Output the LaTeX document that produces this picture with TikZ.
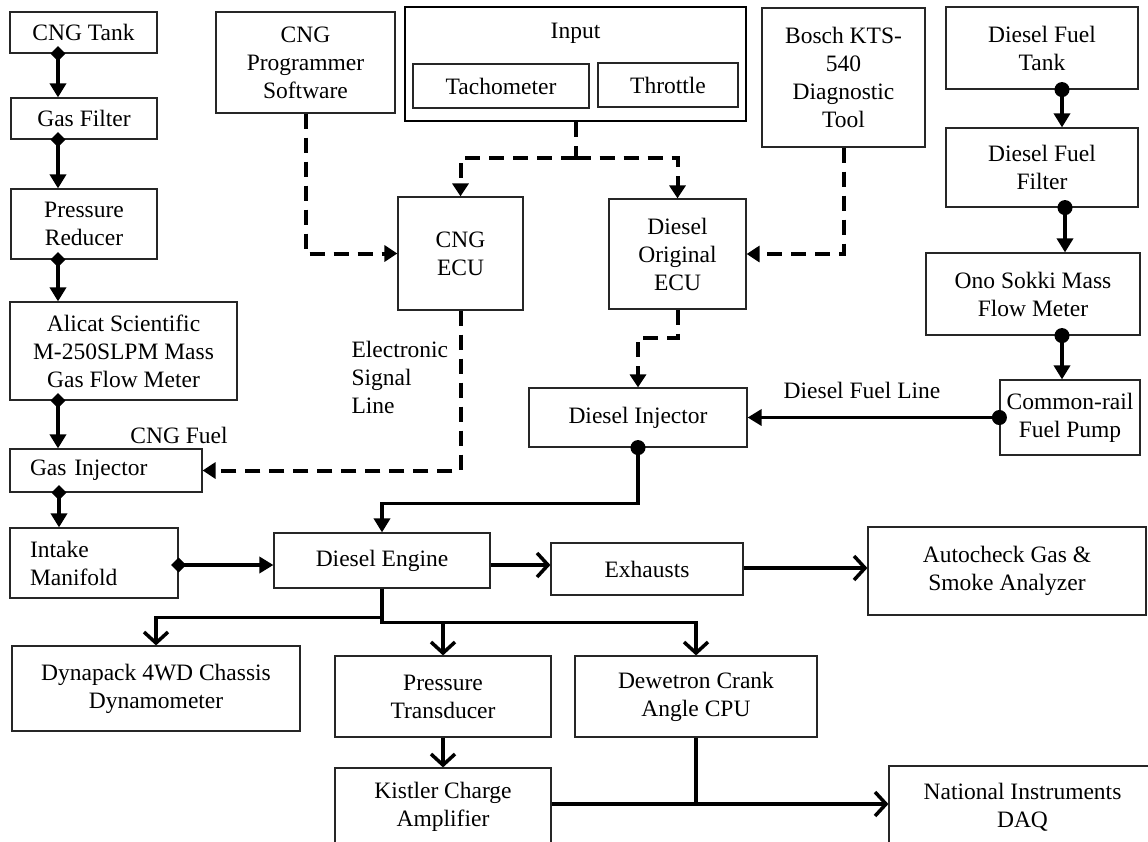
\documentclass[tikz,border=0pt]{standalone}
\usepackage{fontspec}
\setmainfont{Liberation Serif}
\usetikzlibrary{arrows.meta,calc}
\begin{document}
\begin{tikzpicture}[x=1pt,y=-1pt,
  every node/.style={font=\fontsize{23.5}{28}\selectfont},
  box/.style={draw=black!85,line width=1.2pt,inner sep=0pt,align=center},
  gas/.style={line width=3.5pt,{Diamond[length=15pt,width=15pt]}-{Triangle[length=14pt,width=16pt]}},
  dsl/.style={line width=3.5pt,{Circle[length=15pt]}-{Triangle[length=14pt,width=16pt]}},
  outarrow/.style={line width=3.5pt,-{Straight Barb[length=11pt,width=24pt]}},
  sigline/.style={line width=4pt,dash pattern=on 15pt off 9pt},
  sig/.style={sigline,-{Triangle[length=13pt,width=16pt]}}]
\useasboundingbox (0,0) rectangle (1148,841);
\fill[white] (0,0) rectangle (1148,841);

% CNG chain
\node[box,minimum width=147pt,minimum height=41pt] (tank) at (83.5,32.5) {CNG Tank};
\node[box,minimum width=146pt,minimum height=41pt] (filter) at (84,118.5) {Gas Filter};
\node[box,minimum width=146pt,minimum height=70pt] (reducer) at (84,224) {Pressure\\Reducer};
\node[box,minimum width=227pt,minimum height=98pt] (alicat) at (123.5,351) {Alicat Scientific\\M-250SLPM Mass\\Gas Flow Meter};
\node[box,minimum width=192pt,minimum height=43pt,text width=152pt,align=left] (ginj) at (106,470.5) {Gas Injector};
\node[box,minimum width=168pt,minimum height=70pt,text width=128pt,align=left] (intake) at (94,563) {Intake\\Manifold};

% control
\node[box,minimum width=179pt,minimum height=101pt] (prog) at (305.5,62.5) {CNG\\Programmer\\Software};
\node[draw=black,line width=2.4pt,minimum width=341pt,minimum height=114pt] (input) at (575.5,64) {};
\node (inputlbl) at (575.5,33) {Input};
\node[box,minimum width=176pt,minimum height=44pt] (tach) at (501,86) {Tachometer};
\node[box,minimum width=140pt,minimum height=44pt] (thr) at (668,85) {Throttle};
\node[box,minimum width=125pt,minimum height=113pt] (cngecu) at (460.5,253.5) {CNG\\ECU};
\node[box,minimum width=137pt,minimum height=110pt] (decu) at (677.5,254) {Diesel\\Original\\ECU};
\node[box,minimum width=163pt,minimum height=139pt] (bosch) at (843.5,77.5) {Bosch KTS-\\540\\Diagnostic\\Tool};

% diesel chain
\node[box,minimum width=192pt,minimum height=82pt] (dtank) at (1042,48) {Diesel Fuel\\Tank};
\node[box,minimum width=192pt,minimum height=79pt] (dfilter) at (1042,167.5) {Diesel Fuel\\Filter};
\node[box,minimum width=214pt,minimum height=82pt] (ono) at (1033,294) {Ono Sokki Mass\\Flow Meter};
\node[box,minimum width=140pt,minimum height=75pt] (rail) at (1070,417.5) {Common-rail\\Fuel Pump};
\node[box,minimum width=218pt,minimum height=59pt] (dinj) at (638,417.5) {Diesel Injector};

% engine and outputs
\node[box,minimum width=216pt,minimum height=55pt] (engine) at (382,560.5) {Diesel Engine};
\node[box,minimum width=192pt,minimum height=52pt] (exh) at (647,569) {Exhausts};
\node[box,minimum width=278pt,minimum height=88pt] (auto) at (1007,571) {Autocheck Gas \&\\Smoke Analyzer};
\node[box,minimum width=288pt,minimum height=85pt] (dyna) at (156,688.5) {Dynapack 4WD Chassis\\Dynamometer};
\node[box,minimum width=216pt,minimum height=81pt] (pt) at (443,696.5) {Pressure\\Transducer};
\node[box,minimum width=242pt,minimum height=81pt] (dew) at (696,696.5) {Dewetron Crank\\Angle CPU};
\node[box,minimum width=216pt,minimum height=78pt] (kist) at (443,807) {Kistler Charge\\Amplifier};
\node[box,minimum width=267pt,minimum height=82pt] (daq) at (1022.5,807) {National Instruments\\DAQ};

% labels
\node (cngfuel) at (179,435) {CNG Fuel};
\node[align=left,anchor=west] (esl) at (348,377) {Electronic\\Signal\\Line};
\node (dfl) at (862,390) {Diesel Fuel Line};

% CNG connectors
\draw[gas] ($(58,0 |- tank.south)+(0,-7.5)$) -- (58,0 |- filter.north);
\draw[gas] ($(58,0 |- filter.south)+(0,-7.5)$) -- (58,0 |- reducer.north);
\draw[gas] ($(58,0 |- reducer.south)+(0,-7.5)$) -- (58,0 |- alicat.north);
\draw[gas] ($(58,0 |- alicat.south)+(0,-7.5)$) -- (58,0 |- ginj.north);
\draw[gas] ($(59,0 |- ginj.south)+(0,-7.5)$) -- (59,0 |- intake.north);
\draw[gas] ($(intake.east |- 0,565)+(-7.5,0)$) -- (engine.west |- 0,565);

% Diesel connectors
\draw[dsl] ($(1062,0 |- dtank.south)+(0,-7.5)$) -- (1062,0 |- dfilter.north);
\draw[dsl] ($(1065,0 |- dfilter.south)+(0,-7.5)$) -- (1065,0 |- ono.north);
\draw[dsl] ($(1062,0 |- ono.south)+(0,-7.5)$) -- (1062,0 |- rail.north);
\draw[dsl] ($(rail.west)+(7.5,0)$) -- (dinj.east);
\draw[dsl] ($(dinj.south)+(0,-7.5)$) -- ++(0,63.5) -| (engine.north);

% outputs
\draw[outarrow] (engine.east |- 0,565) -- (exh.west |- 0,565);
\draw[outarrow] (exh.east |- 0,568) -- (auto.west |- 0,568);
\draw[outarrow] (engine.south) -- ++(0,29) -| (dyna.north);
\draw[outarrow] (engine.south) -- ++(0,34) -| (pt.north);
\draw[outarrow] (engine.south) -- ++(0,34) -| (dew.north);
\draw[outarrow] (pt.south) -- (kist.north);
\draw[outarrow] (kist.east |- 0,804) -- (daq.west |- 0,804);
\draw[line width=3.5pt] (dew.south) -- (dew.south |- 0,804);

% signal lines
\draw[sig] (prog.south) |- (cngecu.west);
\draw[sigline] (input.south) -- ++(0,36) coordinate (j);
\draw[sig] (j) -| (cngecu.north);
\draw[sig] (j) -| (decu.north);
\draw[sig] (bosch.south) |- (decu.east);
\draw[sig] (cngecu.south) |- (ginj.east);
\draw[sig] (decu.south) -- ++(0,28) -| (dinj.north);
\end{tikzpicture}
\end{document}
